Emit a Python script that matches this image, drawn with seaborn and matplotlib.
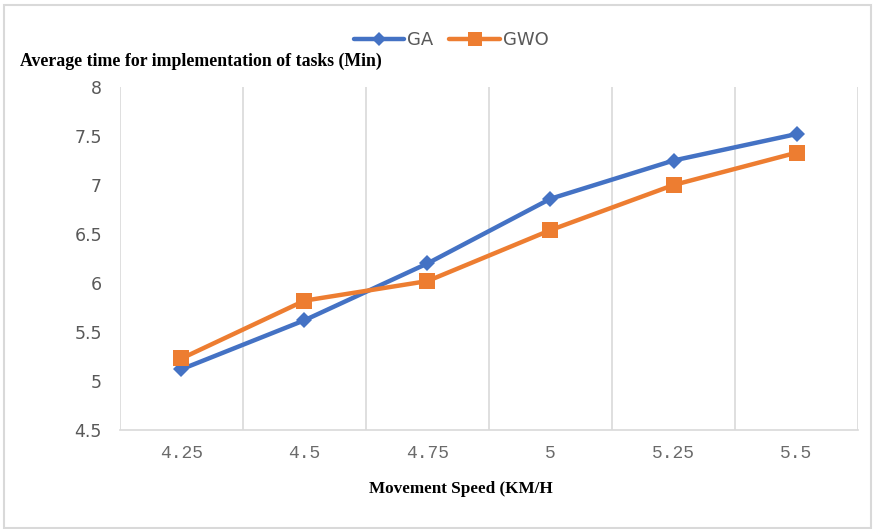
import matplotlib
matplotlib.use("Agg")
import matplotlib.pyplot as plt
import seaborn as sns
import pandas as pd
import numpy as np
from matplotlib.patches import Rectangle
from matplotlib.lines import Line2D

# Movement speed categories (km/h) and mean task completion time (min)
speeds = ["4.25", "4.5", "4.75", "5", "5.25", "5.5"]
ga_times = [5.12, 5.62, 6.20, 6.86, 7.25, 7.52]
gwo_times = [5.23, 5.82, 6.02, 6.54, 7.00, 7.33]
y_ticks = [4.5, 5, 5.5, 6, 6.5, 7, 7.5, 8]
y_tick_labels = ["4.5", "5", "5.5", "6", "6.5", "7", "7.5", "8"]

sns.set_theme(style="white")
plt.rcParams["font.family"] = ["Liberation Sans Narrow", "DejaVu Sans"]

pos = np.arange(len(speeds))
df = pd.DataFrame({
    "pos": np.concatenate([pos, pos]),
    "time": ga_times + gwo_times,
    "algo": ["GA"] * len(speeds) + ["GWO"] * len(speeds),
})

fig = plt.figure(figsize=(8.75, 5.29), dpi=100)
ax = fig.add_axes([0.1371, 0.1871, 0.8435, 0.6484])

palette = {"GA": "#4472C4", "GWO": "#ED7D31"}
sns.lineplot(data=df, x="pos", y="time", hue="algo", style="algo",
             markers={"GA": "D", "GWO": "s"}, dashes=False,
             palette=palette, linewidth=3.2, markersize=9,
             markeredgewidth=0, ax=ax, legend=False)
# square markers a touch larger than the diamonds
for line, ms in zip(ax.get_lines(), [8.5, 11]):
    line.set_markersize(ms)

ax.set_xlim(-0.5, len(speeds) - 0.5)
ax.set_ylim(4.5, 8)
ax.set_yticks(y_ticks)
ax.set_yticklabels(y_tick_labels, fontsize=12.5, color="#595959")
ax.set_xticks(pos)
ax.set_xticklabels(speeds, fontsize=13, color="#6a6a6a",
                   family=["Liberation Mono", "DejaVu Sans Mono"])
ax.tick_params(axis="x", length=0, pad=11)
ax.tick_params(axis="y", length=0, pad=13)

# vertical separators between categories
ax.set_xticks(np.arange(-0.5, len(speeds)), minor=True)
ax.grid(which="minor", axis="x", color="#d9d9d9", linewidth=1.2)
ax.grid(which="major", visible=False)
for side in ["top", "right", "left"]:
    ax.spines[side].set_visible(False)
ax.spines["bottom"].set_color("#d9d9d9")
ax.spines["bottom"].set_linewidth(1.2)

ax.set_xlabel("")
ax.set_ylabel("")

fig.text(20 / 875, 1 - 61 / 529, "Average time for implementation of tasks (Min)",
         fontsize=12.8, fontweight="bold", va="center", ha="left",
         family=["Liberation Serif", "DejaVu Serif"], color="black")
fig.text(461 / 875, 1 - 489 / 529, "Movement Speed (KM/H",
         fontsize=12.3, fontweight="bold", va="center", ha="center",
         family=["Liberation Serif", "DejaVu Serif"], color="black")

handles = [
    Line2D([0], [0], color=palette["GA"], lw=3.2, marker="D", markersize=7.5, markeredgewidth=0),
    Line2D([0], [0], color=palette["GWO"], lw=3.2, marker="s", markersize=9.5, markeredgewidth=0),
]
fig.legend(handles, ["GA", "GWO"], loc="center", bbox_to_anchor=(451 / 875, 1 - 40 / 529),
           ncol=2, frameon=False, fontsize=13, handlelength=2.8, handletextpad=0.15,
           columnspacing=0.9, labelcolor="#595959")

fig.patches.append(Rectangle((4 / 875, 1 / 529), 867 / 875, 523 / 529,
                             transform=fig.transFigure, fill=False,
                             edgecolor="#d9d9d9", linewidth=1.5))

fig.savefig("out.png", dpi=100, facecolor="white")
